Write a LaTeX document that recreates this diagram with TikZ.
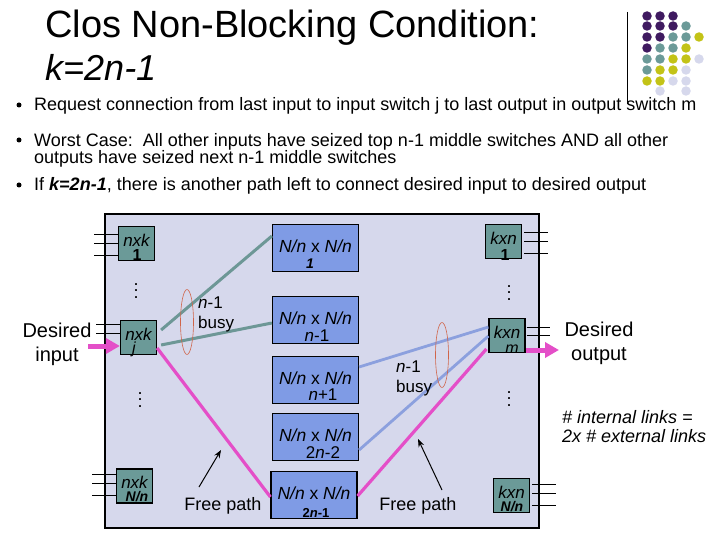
\documentclass[tikz,border=0pt]{standalone}
\usepackage{fontspec}
\setmainfont{Liberation Sans}
\usetikzlibrary{arrows.meta,shapes.geometric}
\definecolor{panelcol}{HTML}{D6D8EC}
\definecolor{tealcol}{HTML}{6B9A98}
\definecolor{bluecol}{HTML}{7F9BE5}
\definecolor{linkblue}{HTML}{8CA0DE}
\definecolor{pinkcol}{HTML}{E44FC8}
\definecolor{purplecol}{HTML}{3F1A60}
\definecolor{yellowcol}{HTML}{C3C317}
\definecolor{ringcol}{HTML}{D0654A}
\newcommand{\fs}[1]{\fontsize{#1}{#1}\selectfont}
\tikzset{
	swbox/.style={draw=black, line width=1.2pt, fill=tealcol, minimum width=36pt, minimum height=34pt, inner sep=0pt, text height=8pt, text depth=3pt, font=\fs{17}\itshape},
	midbox/.style={draw=black, line width=1.2pt, fill=bluecol, minimum width=86pt, minimum height=47pt, inner sep=0pt, text height=12pt, text depth=3pt, font=\fs{17.5}},
	sublab/.style={inner sep=0pt, font=\fs{16}},
	stub/.style={draw=black, line width=0.6pt},
	txt/.style={anchor=west, inner sep=0pt, align=left, font=\fs{18}},
	lab/.style={inner sep=0pt, align=center, font=\fs{18}},
	busyring/.style={ellipse, draw=ringcol, line width=0.6pt, inner sep=0pt, minimum width=13pt, minimum height=65pt},
	tealink/.style={draw=tealcol!90!gray, line width=3pt},
	bluelink/.style={draw=linkblue, line width=2.8pt},
	pinklink/.style={draw=pinkcol, line width=3.2pt},
	fatarrow/.style={draw=pinkcol, line width=5pt, -{Triangle[length=14pt,width=15pt]}},
	freearrow/.style={draw=black, line width=1pt, -{Stealth[length=8pt,width=6pt]}},
	vdot/.style={inner sep=0pt, align=center, font=\fontsize{18}{6.3}\selectfont},
	spot/.style={circle, inner sep=0pt, minimum width=9.5pt, minimum height=8pt}
}
\begin{document}
\begin{tikzpicture}[x=1pt,y=-1pt]
	\useasboundingbox (0,0) rectangle (720,540);
	% slide text
	\node[txt, font=\fs{38}] (titlea) at (45,28) {Clos Non-Blocking Condition:};
	\node[txt, font=\fs{36}\itshape] (titleb) at (45,67) {k=2n-1};
	\foreach \y in {105,140,185}
		\node[circle, fill=black, inner sep=0pt, minimum size=5pt] (bullet\y) at (19,\y) {};
	\node[txt] (linea) at (34,106) {Request connection from last input to input switch j to last output in output switch m};
	\node[txt] (lineb) at (34,150.5) {Worst Case:\ \ All other inputs have seized top n-1 middle switches AND all other\\[-1pt]outputs have seized next n-1 middle switches};
	\node[txt] (linec) at (34,186) {If \textbf{\textit{k=2n-1}}, there is another path left to connect desired input to desired output};
	% corner dots
	\coordinate (rulea) at (627,12);
	\coordinate (ruleb) at (627,104);
	\draw[line width=0.7pt] (rulea) -- (ruleb);
	\foreach \x/\y/\c in {647/16/purplecol,660/16/purplecol,673/16/purplecol,
		647/26/purplecol,660/26/purplecol,673/26/purplecol,686/26/tealcol,
		647/37/purplecol,660/37/purplecol,673/37/tealcol,686/37/tealcol,699/37/yellowcol,
		647/48/purplecol,660/48/tealcol,673/48/tealcol,686/48/yellowcol,
		647/59/tealcol,660/59/tealcol,673/59/yellowcol,686/59/yellowcol,699/59/panelcol,
		647/70/tealcol,660/70/yellowcol,673/70/yellowcol,686/70/panelcol,
		647/81/yellowcol,660/81/yellowcol,673/81/panelcol,686/81/panelcol,
		660/91/panelcol,686/91/panelcol}
		\node[spot, fill=\c] (spot\x-\y) at (\x,\y) {};
	% panel and switches
	\node[draw=black, line width=1.4pt, fill=panelcol, minimum width=434pt, minimum height=314pt, inner sep=0pt] (panel) at (322,371) {};
	\foreach \name/\x/\y/\t/\sx/\sy/\s in {
		nxka/136.5/243.5/nxk/137/255/\textbf{1},
		nxkj/138.5/337.5/nxk/134/349/\textit{j},
		nxkn/134.5/486/nxk/137/497/{\fs{14}\bfseries\itshape N/n},
		kxna/503.5/241.5/kxn/505/255/\textbf{1},
		kxnm/507/335.5/kxn/512/349/\textit{m},
		kxnn/511.5/495.5/kxn/512/507/{\fs{14}\bfseries\itshape N/n}}
	{
		\node[swbox] (\name) at (\x,\y) {\t};
		\node[sublab] (\name sub) at (\sx,\sy) {\s};
	}
	\foreach \name/\x/\y/\sx/\sy/\s in {
		mida/315.5/248/310/264/{\fs{14}\bfseries\itshape 1},
		midb/315.5/320/317/336/\textit{n}-1,
		midc/315.5/380/323/395/\textit{n}+1,
		midd/315.5/437/323/453/2\textit{n}-2,
		mide/314/495/316/513/{\fs{13}\bfseries 2\textit{n}-1}}
	{
		\node[midbox] (\name) at (\x,\y) {\textit{N/n} x \textit{N/n}};
		\node[sublab, font=\fs{17}] (\name sub) at (\sx,\sy) {\s};
	}
	% links
	\draw[tealink] ([xshift=4pt,yshift=7.5pt]nxkj.east) -- ([yshift=12pt]mida.west);
	\draw[tealink] ([xshift=4pt,yshift=-7.5pt]nxkj.east) -- ([yshift=-3pt]midb.west);
	\draw[bluelink] ([yshift=13pt]midc.east) -- ([yshift=8.5pt]kxnm.west);
	\draw[bluelink] ([yshift=-13pt]midd.east) -- ([yshift=-0.5pt]kxnm.west);
	\draw[pinklink] ([yshift=-10.5pt]nxkj.east) -- ([yshift=-2pt]mide.west);
	\draw[pinklink] ([yshift=-1pt]mide.east) -- ([xshift=-2pt,yshift=-13.5pt]kxnm.west);
	\node[busyring] (ringa) at (187,322) {};
	\node[busyring] (ringb) at (442,355) {};
	% stubs
	\foreach \s in {9.5,0.5,-11.5}
		\draw[stub] ([yshift=\s pt]nxka.west) -- ++(-24,0);
	\foreach \s in {13.5,4.5}
		\draw[stub] ([yshift=\s pt]nxkj.west) -- ++(-24,0);
	\foreach \s in {12,3,-9}
		\draw[stub] ([yshift=\s pt]nxkn.west) -- ++(-24,0);
	\foreach \s in {9.5,0.5,-11.5}
		\draw[stub] ([xshift=2pt,yshift=\s pt]kxna.east) -- ++(24,0);
	\foreach \s in {8.5,0.5}
		\draw[stub] ([xshift=1pt,yshift=\s pt]kxnm.east) -- ++(23,0);
	\foreach \s in {11.5,2.5,-9.5}
		\draw[stub] ([xshift=2pt,yshift=\s pt]kxnn.east) -- ++(24,0);
	% dots
	\foreach \name/\x/\y in {dota/136/291,dotb/140/400,dotc/509/293,dotd/509/399}
		\node[vdot] (\name) at (\x,\y) {.\\.\\.};
	% ports
	\coordinate (inport) at (88,346);
	\coordinate (outport) at (526,350);
	\draw[fatarrow] (inport) -- ([yshift=-8.5pt]nxkj.west);
	\coordinate (outtip) at (559,350);
	\draw[fatarrow] (outport) -- (outtip);
	\node[lab, font=\fs{20}] (inlab) at (57,344) {Desired\\[4pt]input};
	\node[lab, font=\fs{20}] (outlab) at (599,343) {Desired\\[4pt]output};
	\node[txt, font=\fs{17}] (busya) at (198,314) {\textit{n}-1\\[3pt]busy};
	\node[txt, font=\fs{17}] (busyb) at (396,378) {\textit{n}-1\\[3pt]busy};
	\node[txt, font=\fs{18}\itshape] (counts) at (562,427) {\# internal links =\\[1pt]2x \# external links};
	% free paths
	\node[lab] (freea) at (223,506) {Free path};
	\node[lab] (freeb) at (418,506) {Free path};
	\coordinate (freeatail) at (199,487);
	\coordinate (freeatip) at (221,450);
	\coordinate (freebtail) at (442,490);
	\coordinate (freebtip) at (418,439);
	\draw[freearrow] (freeatail) -- (freeatip);
	\draw[freearrow] (freebtail) -- (freebtip);
\end{tikzpicture}
\end{document}
